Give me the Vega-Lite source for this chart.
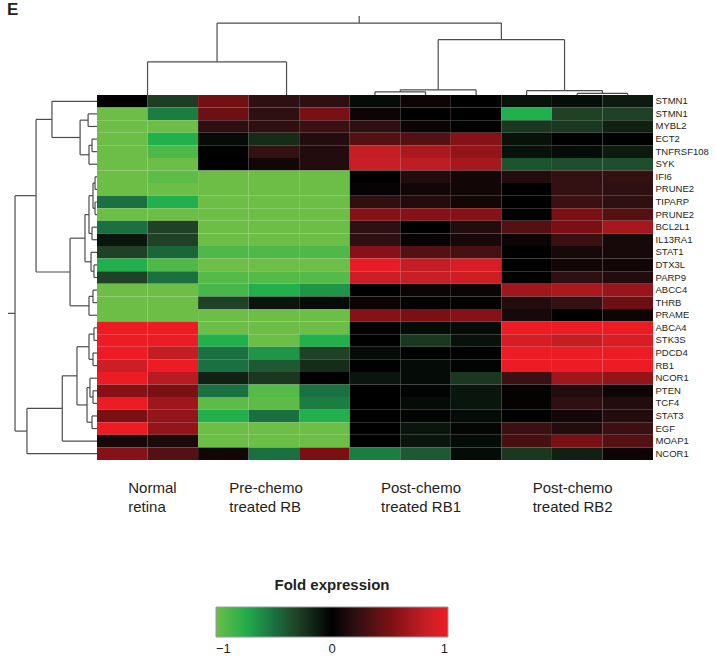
{
"$schema":"https://vega.github.io/schema/vega-lite/v6.json",
"width":556,"height":365,
"autosize":"none",
"padding":{"left":97,"top":95,"right":62,"bottom":208},
"background":"white",
"title":{"text":"E","anchor":"start","frame":"group","dx":-90,"offset":-4,"fontSize":17,"fontWeight":"bold","color":"#231f20","font":"Liberation Sans"},
"config":{"view":{"stroke":null},"font":"Liberation Sans"},
"datasets":{
"cells":[
{"g":"STMN1","s":"N1","v":0},{"g":"STMN1","s":"N2","v":-0.28},{"g":"STMN1","s":"P1","v":0.47},{"g":"STMN1","s":"P2","v":0.2},{"g":"STMN1","s":"P3","v":0.2},{"g":"STMN1","s":"A1","v":-0.05},{"g":"STMN1","s":"A2","v":0.05},{"g":"STMN1","s":"A3","v":0},{"g":"STMN1","s":"B1","v":-0.08},{"g":"STMN1","s":"B2","v":-0.06},{"g":"STMN1","s":"B3","v":-0.12},
{"g":"STMN1#2","s":"N1","v":-1},{"g":"STMN1#2","s":"N2","v":-0.55},{"g":"STMN1#2","s":"P1","v":0.45},{"g":"STMN1#2","s":"P2","v":0.2},{"g":"STMN1#2","s":"P3","v":0.5},{"g":"STMN1#2","s":"A1","v":0.05},{"g":"STMN1#2","s":"A2","v":0},{"g":"STMN1#2","s":"A3","v":0},{"g":"STMN1#2","s":"B1","v":-0.75},{"g":"STMN1#2","s":"B2","v":-0.3},{"g":"STMN1#2","s":"B3","v":-0.3},
{"g":"MYBL2","s":"N1","v":-1},{"g":"MYBL2","s":"N2","v":-1},{"g":"MYBL2","s":"P1","v":0.2},{"g":"MYBL2","s":"P2","v":0.2},{"g":"MYBL2","s":"P3","v":0.25},{"g":"MYBL2","s":"A1","v":0.2},{"g":"MYBL2","s":"A2","v":0.05},{"g":"MYBL2","s":"A3","v":0},{"g":"MYBL2","s":"B1","v":-0.25},{"g":"MYBL2","s":"B2","v":-0.25},{"g":"MYBL2","s":"B3","v":-0.15},
{"g":"ECT2","s":"N1","v":-1},{"g":"ECT2","s":"N2","v":-0.75},{"g":"ECT2","s":"P1","v":-0.05},{"g":"ECT2","s":"P2","v":-0.2},{"g":"ECT2","s":"P3","v":0.15},{"g":"ECT2","s":"A1","v":0.35},{"g":"ECT2","s":"A2","v":0.35},{"g":"ECT2","s":"A3","v":0.55},{"g":"ECT2","s":"B1","v":-0.08},{"g":"ECT2","s":"B2","v":0},{"g":"ECT2","s":"B3","v":0},
{"g":"TNFRSF108","s":"N1","v":-1},{"g":"TNFRSF108","s":"N2","v":-0.9},{"g":"TNFRSF108","s":"P1","v":0},{"g":"TNFRSF108","s":"P2","v":0.22},{"g":"TNFRSF108","s":"P3","v":0.15},{"g":"TNFRSF108","s":"A1","v":0.8},{"g":"TNFRSF108","s":"A2","v":0.7},{"g":"TNFRSF108","s":"A3","v":0.6},{"g":"TNFRSF108","s":"B1","v":-0.08},{"g":"TNFRSF108","s":"B2","v":-0.06},{"g":"TNFRSF108","s":"B3","v":-0.12},
{"g":"SYK","s":"N1","v":-1},{"g":"SYK","s":"N2","v":-1},{"g":"SYK","s":"P1","v":0},{"g":"SYK","s":"P2","v":0.08},{"g":"SYK","s":"P3","v":0.15},{"g":"SYK","s":"A1","v":0.82},{"g":"SYK","s":"A2","v":0.77},{"g":"SYK","s":"A3","v":0.67},{"g":"SYK","s":"B1","v":-0.38},{"g":"SYK","s":"B2","v":-0.35},{"g":"SYK","s":"B3","v":-0.35},
{"g":"IFI6","s":"N1","v":-1},{"g":"IFI6","s":"N2","v":-0.95},{"g":"IFI6","s":"P1","v":-1},{"g":"IFI6","s":"P2","v":-1},{"g":"IFI6","s":"P3","v":-1},{"g":"IFI6","s":"A1","v":0},{"g":"IFI6","s":"A2","v":0.15},{"g":"IFI6","s":"A3","v":0.08},{"g":"IFI6","s":"B1","v":0.15},{"g":"IFI6","s":"B2","v":0.22},{"g":"IFI6","s":"B3","v":0.22},
{"g":"PRUNE2","s":"N1","v":-1},{"g":"PRUNE2","s":"N2","v":-1},{"g":"PRUNE2","s":"P1","v":-1},{"g":"PRUNE2","s":"P2","v":-1},{"g":"PRUNE2","s":"P3","v":-1},{"g":"PRUNE2","s":"A1","v":0.03},{"g":"PRUNE2","s":"A2","v":0.08},{"g":"PRUNE2","s":"A3","v":0.08},{"g":"PRUNE2","s":"B1","v":0},{"g":"PRUNE2","s":"B2","v":0.22},{"g":"PRUNE2","s":"B3","v":0.2},
{"g":"TIPARP","s":"N1","v":-0.5},{"g":"TIPARP","s":"N2","v":-0.75},{"g":"TIPARP","s":"P1","v":-1},{"g":"TIPARP","s":"P2","v":-1},{"g":"TIPARP","s":"P3","v":-1},{"g":"TIPARP","s":"A1","v":0.2},{"g":"TIPARP","s":"A2","v":0.15},{"g":"TIPARP","s":"A3","v":0.08},{"g":"TIPARP","s":"B1","v":0},{"g":"TIPARP","s":"B2","v":0.25},{"g":"TIPARP","s":"B3","v":0.2},
{"g":"PRUNE2#2","s":"N1","v":-1},{"g":"PRUNE2#2","s":"N2","v":-1},{"g":"PRUNE2#2","s":"P1","v":-1},{"g":"PRUNE2#2","s":"P2","v":-1},{"g":"PRUNE2#2","s":"P3","v":-1},{"g":"PRUNE2#2","s":"A1","v":0.55},{"g":"PRUNE2#2","s":"A2","v":0.55},{"g":"PRUNE2#2","s":"A3","v":0.55},{"g":"PRUNE2#2","s":"B1","v":0},{"g":"PRUNE2#2","s":"B2","v":0.5},{"g":"PRUNE2#2","s":"B3","v":0.35},
{"g":"BCL2L1","s":"N1","v":-0.5},{"g":"BCL2L1","s":"N2","v":-0.3},{"g":"BCL2L1","s":"P1","v":-1},{"g":"BCL2L1","s":"P2","v":-1},{"g":"BCL2L1","s":"P3","v":-1},{"g":"BCL2L1","s":"A1","v":0.2},{"g":"BCL2L1","s":"A2","v":0},{"g":"BCL2L1","s":"A3","v":0.15},{"g":"BCL2L1","s":"B1","v":0.35},{"g":"BCL2L1","s":"B2","v":0.5},{"g":"BCL2L1","s":"B3","v":0.68},
{"g":"IL13RA1","s":"N1","v":-0.1},{"g":"IL13RA1","s":"N2","v":-0.3},{"g":"IL13RA1","s":"P1","v":-1},{"g":"IL13RA1","s":"P2","v":-1},{"g":"IL13RA1","s":"P3","v":-1},{"g":"IL13RA1","s":"A1","v":0.2},{"g":"IL13RA1","s":"A2","v":0.03},{"g":"IL13RA1","s":"A3","v":0.1},{"g":"IL13RA1","s":"B1","v":0.05},{"g":"IL13RA1","s":"B2","v":0.25},{"g":"IL13RA1","s":"B3","v":0.1},
{"g":"STAT1","s":"N1","v":-0.3},{"g":"STAT1","s":"N2","v":-0.45},{"g":"STAT1","s":"P1","v":-0.9},{"g":"STAT1","s":"P2","v":-0.9},{"g":"STAT1","s":"P3","v":-0.9},{"g":"STAT1","s":"A1","v":0.55},{"g":"STAT1","s":"A2","v":0.35},{"g":"STAT1","s":"A3","v":0.3},{"g":"STAT1","s":"B1","v":0},{"g":"STAT1","s":"B2","v":0.1},{"g":"STAT1","s":"B3","v":0.1},
{"g":"DTX3L","s":"N1","v":-0.75},{"g":"DTX3L","s":"N2","v":-0.9},{"g":"DTX3L","s":"P1","v":-1},{"g":"DTX3L","s":"P2","v":-1},{"g":"DTX3L","s":"P3","v":-1},{"g":"DTX3L","s":"A1","v":0.97},{"g":"DTX3L","s":"A2","v":0.8},{"g":"DTX3L","s":"A3","v":0.9},{"g":"DTX3L","s":"B1","v":0},{"g":"DTX3L","s":"B2","v":0.08},{"g":"DTX3L","s":"B3","v":0.08},
{"g":"PARP9","s":"N1","v":-0.3},{"g":"PARP9","s":"N2","v":-0.5},{"g":"PARP9","s":"P1","v":-0.92},{"g":"PARP9","s":"P2","v":-0.92},{"g":"PARP9","s":"P3","v":-0.92},{"g":"PARP9","s":"A1","v":0.85},{"g":"PARP9","s":"A2","v":0.82},{"g":"PARP9","s":"A3","v":0.85},{"g":"PARP9","s":"B1","v":0},{"g":"PARP9","s":"B2","v":0.2},{"g":"PARP9","s":"B3","v":0.15},
{"g":"ABCC4","s":"N1","v":-1},{"g":"ABCC4","s":"N2","v":-1},{"g":"ABCC4","s":"P1","v":-0.88},{"g":"ABCC4","s":"P2","v":-0.75},{"g":"ABCC4","s":"P3","v":-0.65},{"g":"ABCC4","s":"A1","v":0},{"g":"ABCC4","s":"A2","v":0.05},{"g":"ABCC4","s":"A3","v":0.05},{"g":"ABCC4","s":"B1","v":0.65},{"g":"ABCC4","s":"B2","v":0.7},{"g":"ABCC4","s":"B3","v":0.62},
{"g":"THRB","s":"N1","v":-1},{"g":"THRB","s":"N2","v":-1},{"g":"THRB","s":"P1","v":-0.3},{"g":"THRB","s":"P2","v":-0.1},{"g":"THRB","s":"P3","v":-0.05},{"g":"THRB","s":"A1","v":0.05},{"g":"THRB","s":"A2","v":0.02},{"g":"THRB","s":"A3","v":0.02},{"g":"THRB","s":"B1","v":0.15},{"g":"THRB","s":"B2","v":0.22},{"g":"THRB","s":"B3","v":0.45},
{"g":"PRAME","s":"N1","v":-1},{"g":"PRAME","s":"N2","v":-1},{"g":"PRAME","s":"P1","v":-1},{"g":"PRAME","s":"P2","v":-1},{"g":"PRAME","s":"P3","v":-1},{"g":"PRAME","s":"A1","v":0.55},{"g":"PRAME","s":"A2","v":0.5},{"g":"PRAME","s":"A3","v":0.55},{"g":"PRAME","s":"B1","v":0.1},{"g":"PRAME","s":"B2","v":0},{"g":"PRAME","s":"B3","v":0.05},
{"g":"ABCA4","s":"N1","v":1},{"g":"ABCA4","s":"N2","v":1},{"g":"ABCA4","s":"P1","v":-1},{"g":"ABCA4","s":"P2","v":-1},{"g":"ABCA4","s":"P3","v":-1},{"g":"ABCA4","s":"A1","v":0},{"g":"ABCA4","s":"A2","v":-0.05},{"g":"ABCA4","s":"A3","v":-0.05},{"g":"ABCA4","s":"B1","v":1},{"g":"ABCA4","s":"B2","v":1},{"g":"ABCA4","s":"B3","v":1},
{"g":"STK3S","s":"N1","v":1},{"g":"STK3S","s":"N2","v":1},{"g":"STK3S","s":"P1","v":-0.75},{"g":"STK3S","s":"P2","v":-1},{"g":"STK3S","s":"P3","v":-0.75},{"g":"STK3S","s":"A1","v":0},{"g":"STK3S","s":"A2","v":-0.25},{"g":"STK3S","s":"A3","v":-0.08},{"g":"STK3S","s":"B1","v":0.88},{"g":"STK3S","s":"B2","v":0.8},{"g":"STK3S","s":"B3","v":0.9},
{"g":"PDCD4","s":"N1","v":1},{"g":"PDCD4","s":"N2","v":0.8},{"g":"PDCD4","s":"P1","v":-0.5},{"g":"PDCD4","s":"P2","v":-0.65},{"g":"PDCD4","s":"P3","v":-0.3},{"g":"PDCD4","s":"A1","v":-0.05},{"g":"PDCD4","s":"A2","v":0},{"g":"PDCD4","s":"A3","v":0},{"g":"PDCD4","s":"B1","v":1},{"g":"PDCD4","s":"B2","v":1},{"g":"PDCD4","s":"B3","v":1},
{"g":"RB1","s":"N1","v":0.85},{"g":"RB1","s":"N2","v":1},{"g":"RB1","s":"P1","v":-0.5},{"g":"RB1","s":"P2","v":-0.4},{"g":"RB1","s":"P3","v":-0.2},{"g":"RB1","s":"A1","v":0},{"g":"RB1","s":"A2","v":-0.05},{"g":"RB1","s":"A3","v":-0.02},{"g":"RB1","s":"B1","v":1},{"g":"RB1","s":"B2","v":1},{"g":"RB1","s":"B3","v":1},
{"g":"NCOR1","s":"N1","v":1},{"g":"NCOR1","s":"N2","v":0.75},{"g":"NCOR1","s":"P1","v":-0.15},{"g":"NCOR1","s":"P2","v":-0.25},{"g":"NCOR1","s":"P3","v":0},{"g":"NCOR1","s":"A1","v":-0.1},{"g":"NCOR1","s":"A2","v":-0.05},{"g":"NCOR1","s":"A3","v":-0.25},{"g":"NCOR1","s":"B1","v":0.25},{"g":"NCOR1","s":"B2","v":0.65},{"g":"NCOR1","s":"B3","v":0.6},
{"g":"PTEN","s":"N1","v":0.55},{"g":"PTEN","s":"N2","v":0.5},{"g":"PTEN","s":"P1","v":-0.5},{"g":"PTEN","s":"P2","v":-0.92},{"g":"PTEN","s":"P3","v":-0.5},{"g":"PTEN","s":"A1","v":0},{"g":"PTEN","s":"A2","v":-0.02},{"g":"PTEN","s":"A3","v":-0.1},{"g":"PTEN","s":"B1","v":0.02},{"g":"PTEN","s":"B2","v":0.15},{"g":"PTEN","s":"B3","v":0.05},
{"g":"TCF4","s":"N1","v":1},{"g":"TCF4","s":"N2","v":0.65},{"g":"TCF4","s":"P1","v":-0.95},{"g":"TCF4","s":"P2","v":-0.95},{"g":"TCF4","s":"P3","v":-0.55},{"g":"TCF4","s":"A1","v":0},{"g":"TCF4","s":"A2","v":-0.05},{"g":"TCF4","s":"A3","v":-0.1},{"g":"TCF4","s":"B1","v":0.02},{"g":"TCF4","s":"B2","v":0.2},{"g":"TCF4","s":"B3","v":0.15},
{"g":"STAT3","s":"N1","v":0.5},{"g":"STAT3","s":"N2","v":0.6},{"g":"STAT3","s":"P1","v":-0.75},{"g":"STAT3","s":"P2","v":-0.5},{"g":"STAT3","s":"P3","v":-0.75},{"g":"STAT3","s":"A1","v":0},{"g":"STAT3","s":"A2","v":-0.02},{"g":"STAT3","s":"A3","v":-0.05},{"g":"STAT3","s":"B1","v":0},{"g":"STAT3","s":"B2","v":0.08},{"g":"STAT3","s":"B3","v":0.15},
{"g":"EGF","s":"N1","v":1},{"g":"EGF","s":"N2","v":0.6},{"g":"EGF","s":"P1","v":-1},{"g":"EGF","s":"P2","v":-1},{"g":"EGF","s":"P3","v":-1},{"g":"EGF","s":"A1","v":0},{"g":"EGF","s":"A2","v":-0.1},{"g":"EGF","s":"A3","v":-0.03},{"g":"EGF","s":"B1","v":0.25},{"g":"EGF","s":"B2","v":0.15},{"g":"EGF","s":"B3","v":0.25},
{"g":"MOAP1","s":"N1","v":0.1},{"g":"MOAP1","s":"N2","v":0.12},{"g":"MOAP1","s":"P1","v":-1},{"g":"MOAP1","s":"P2","v":-1},{"g":"MOAP1","s":"P3","v":-1},{"g":"MOAP1","s":"A1","v":0},{"g":"MOAP1","s":"A2","v":-0.1},{"g":"MOAP1","s":"A3","v":-0.05},{"g":"MOAP1","s":"B1","v":0.3},{"g":"MOAP1","s":"B2","v":0.5},{"g":"MOAP1","s":"B3","v":0.35},
{"g":"NCOR1#2","s":"N1","v":0.55},{"g":"NCOR1#2","s":"N2","v":0.35},{"g":"NCOR1#2","s":"P1","v":0.08},{"g":"NCOR1#2","s":"P2","v":-0.5},{"g":"NCOR1#2","s":"P3","v":0.5},{"g":"NCOR1#2","s":"A1","v":-0.55},{"g":"NCOR1#2","s":"A2","v":-0.4},{"g":"NCOR1#2","s":"A3","v":-0.05},{"g":"NCOR1#2","s":"B1","v":-0.25},{"g":"NCOR1#2","s":"B2","v":-0.15},{"g":"NCOR1#2","s":"B3","v":0.05}
],
"top":[
{"p":1,"p2":3.75,"h":0.42,"h2":0.42},{"p":1,"p2":1,"h":0.42,"h2":0},{"p":3.75,"p2":3.75,"h":0.42,"h2":0},
{"p":5.5,"p2":6.5,"h":0.04,"h2":0.04},{"p":5.5,"p2":5.5,"h":0.04,"h2":0},{"p":6.5,"p2":6.5,"h":0.04,"h2":0},
{"p":6,"p2":7.5,"h":0.065,"h2":0.065},{"p":6,"p2":6,"h":0.065,"h2":0.04},{"p":7.5,"p2":7.5,"h":0.065,"h2":0},
{"p":9.5,"p2":10.5,"h":0.02,"h2":0.02},{"p":9.5,"p2":9.5,"h":0.02,"h2":0},{"p":10.5,"p2":10.5,"h":0.02,"h2":0},
{"p":8.5,"p2":10,"h":0.055,"h2":0.055},{"p":8.5,"p2":8.5,"h":0.055,"h2":0},{"p":10,"p2":10,"h":0.055,"h2":0.02},
{"p":6.75,"p2":9.25,"h":0.7,"h2":0.7},{"p":6.75,"p2":6.75,"h":0.7,"h2":0.065},{"p":9.25,"p2":9.25,"h":0.7,"h2":0.055},
{"p":2.375,"p2":8,"h":0.91,"h2":0.91},{"p":2.375,"p2":2.375,"h":0.91,"h2":0.42},{"p":8,"p2":8,"h":0.91,"h2":0.7},
{"p":5.1875,"p2":5.1875,"h":0.91,"h2":1}
],
"left":[
{"p":1.5,"p2":2.5,"h":0.1,"h2":0.1},{"p":1.5,"p2":1.5,"h":0.1,"h2":0},{"p":2.5,"p2":2.5,"h":0.1,"h2":0},
{"p":3.5,"p2":4.5,"h":0.056,"h2":0.056},{"p":3.5,"p2":3.5,"h":0.056,"h2":0},{"p":4.5,"p2":4.5,"h":0.056,"h2":0},
{"p":4,"p2":5.5,"h":0.09,"h2":0.09},{"p":4,"p2":4,"h":0.09,"h2":0.056},{"p":5.5,"p2":5.5,"h":0.09,"h2":0},
{"p":2,"p2":4.75,"h":0.19,"h2":0.19},{"p":2,"p2":2,"h":0.19,"h2":0.1},{"p":4.75,"p2":4.75,"h":0.19,"h2":0.09},
{"p":0.5,"p2":3.375,"h":0.506,"h2":0.506},{"p":0.5,"p2":0.5,"h":0.506,"h2":0},{"p":3.375,"p2":3.375,"h":0.506,"h2":0.19},
{"p":6.5,"p2":7.5,"h":0.022,"h2":0.022},{"p":6.5,"p2":6.5,"h":0.022,"h2":0},{"p":7.5,"p2":7.5,"h":0.022,"h2":0},
{"p":8.5,"p2":9.5,"h":0.022,"h2":0.022},{"p":8.5,"p2":8.5,"h":0.022,"h2":0},{"p":9.5,"p2":9.5,"h":0.022,"h2":0},
{"p":7,"p2":9,"h":0.045,"h2":0.045},{"p":7,"p2":7,"h":0.045,"h2":0.022},{"p":9,"p2":9,"h":0.045,"h2":0.022},
{"p":10.5,"p2":11.5,"h":0.056,"h2":0.056},{"p":10.5,"p2":10.5,"h":0.056,"h2":0},{"p":11.5,"p2":11.5,"h":0.056,"h2":0},
{"p":8,"p2":11,"h":0.09,"h2":0.09},{"p":8,"p2":8,"h":0.09,"h2":0.045},{"p":11,"p2":11,"h":0.09,"h2":0.056},
{"p":13.5,"p2":14.5,"h":0.034,"h2":0.034},{"p":13.5,"p2":13.5,"h":0.034,"h2":0},{"p":14.5,"p2":14.5,"h":0.034,"h2":0},
{"p":12.5,"p2":14,"h":0.067,"h2":0.067},{"p":12.5,"p2":12.5,"h":0.067,"h2":0},{"p":14,"p2":14,"h":0.067,"h2":0.034},
{"p":9.5,"p2":13.25,"h":0.135,"h2":0.135},{"p":9.5,"p2":9.5,"h":0.135,"h2":0.09},{"p":13.25,"p2":13.25,"h":0.135,"h2":0.067},
{"p":15.5,"p2":16.5,"h":0.045,"h2":0.045},{"p":15.5,"p2":15.5,"h":0.045,"h2":0},{"p":16.5,"p2":16.5,"h":0.045,"h2":0},
{"p":16,"p2":17.5,"h":0.09,"h2":0.09},{"p":16,"p2":16,"h":0.09,"h2":0.045},{"p":17.5,"p2":17.5,"h":0.09,"h2":0},
{"p":11.375,"p2":16.75,"h":0.303,"h2":0.303},{"p":11.375,"p2":11.375,"h":0.303,"h2":0.135},{"p":16.75,"p2":16.75,"h":0.303,"h2":0.09},
{"p":1.9375,"p2":14.0625,"h":0.685,"h2":0.685},{"p":1.9375,"p2":1.9375,"h":0.685,"h2":0.506},{"p":14.0625,"p2":14.0625,"h":0.685,"h2":0.303},
{"p":18.5,"p2":19.5,"h":0.034,"h2":0.034},{"p":18.5,"p2":18.5,"h":0.034,"h2":0},{"p":19.5,"p2":19.5,"h":0.034,"h2":0},
{"p":20.5,"p2":21.5,"h":0.045,"h2":0.045},{"p":20.5,"p2":20.5,"h":0.045,"h2":0},{"p":21.5,"p2":21.5,"h":0.045,"h2":0},
{"p":19,"p2":21,"h":0.09,"h2":0.09},{"p":19,"p2":19,"h":0.09,"h2":0.034},{"p":21,"p2":21,"h":0.09,"h2":0.045},
{"p":23.5,"p2":24.5,"h":0.045,"h2":0.045},{"p":23.5,"p2":23.5,"h":0.045,"h2":0},{"p":24.5,"p2":24.5,"h":0.045,"h2":0},
{"p":22.5,"p2":24,"h":0.079,"h2":0.079},{"p":22.5,"p2":22.5,"h":0.079,"h2":0},{"p":24,"p2":24,"h":0.079,"h2":0.045},
{"p":25.5,"p2":26.5,"h":0.056,"h2":0.056},{"p":25.5,"p2":25.5,"h":0.056,"h2":0},{"p":26.5,"p2":26.5,"h":0.056,"h2":0},
{"p":23.25,"p2":26,"h":0.112,"h2":0.112},{"p":23.25,"p2":23.25,"h":0.112,"h2":0.079},{"p":26,"p2":26,"h":0.112,"h2":0.056},
{"p":20,"p2":24.625,"h":0.225,"h2":0.225},{"p":20,"p2":20,"h":0.225,"h2":0.09},{"p":24.625,"p2":24.625,"h":0.225,"h2":0.112},
{"p":22.3125,"p2":27.5,"h":0.39,"h2":0.39},{"p":22.3125,"p2":22.3125,"h":0.39,"h2":0.225},{"p":27.5,"p2":27.5,"h":0.39,"h2":0},
{"p":24.906,"p2":28.5,"h":0.787,"h2":0.787},{"p":24.906,"p2":24.906,"h":0.787,"h2":0.39},{"p":28.5,"p2":28.5,"h":0.787,"h2":0},
{"p":8,"p2":26.703,"h":0.921,"h2":0.921},{"p":8,"p2":8,"h":0.921,"h2":0.685},{"p":26.703,"p2":26.703,"h":0.921,"h2":0.787},
{"p":17.35,"p2":17.35,"h":0.921,"h2":1}
]
},
"layer":[
{"data":{"name":"cells"},
 "mark":{"type":"rect"},
 "encoding":{
  "x":{"field":"s","type":"ordinal","sort":["N1","N2","P1","P2","P3","A1","A2","A3","B1","B2","B3"],"scale":{"paddingInner":0,"paddingOuter":0},
       "axis":{"orient":"bottom","title":null,"domain":false,"ticks":false,"bandPosition":0,"labelAngle":0,"labelAlign":"left","labelBaseline":"top","labelPadding":20,"labelOffset":6,"labelFontSize":15,"labelLineHeight":19,"labelColor":"#231f20","labelOverlap":false,"labelBound":false,"labelFlush":false,
       "labelExpr":"datum.value=='N1'?['Normal','retina']:datum.value=='P1'?['Pre-chemo','treated RB']:datum.value=='A1'?['Post-chemo','treated RB1']:datum.value=='B1'?['Post-chemo','treated RB2']:''"}},
  "y":{"field":"g","type":"ordinal","sort":["STMN1","STMN1#2","MYBL2","ECT2","TNFRSF108","SYK","IFI6","PRUNE2","TIPARP","PRUNE2#2","BCL2L1","IL13RA1","STAT1","DTX3L","PARP9","ABCC4","THRB","PRAME","ABCA4","STK3S","PDCD4","RB1","NCOR1","PTEN","TCF4","STAT3","EGF","MOAP1","NCOR1#2"],"scale":{"paddingInner":0,"paddingOuter":0},
       "axis":{"orient":"right","title":null,"domain":false,"ticks":false,"labelPadding":2,"labelFontSize":9.5,"labelColor":"#231f20","labelOverlap":false,"labelExpr":"split(datum.value,'#')[0]"}},
  "color":{"field":"v","type":"quantitative",
       "scale":{"domain":[-1,-0.75,-0.5,-0.3,0,0.2,0.5,0.8,1],"range":["#6cbe46","#22b04c","#1a7040","#1f4226","#000000","#2e1012","#7a1014","#c41e25","#ed1c24"],"interpolate":"rgb"},
       "legend":{"orient":"none","legendX":119,"legendY":483,"direction":"horizontal","title":"Fold expression","titleFontSize":15,"titleFontWeight":"bold","titleColor":"#231f20","titleAnchor":"middle","titleOrient":"top","titlePadding":14,"gradientLength":232,"gradientThickness":30,"gradientStrokeColor":"#9a9a9a","gradientStrokeWidth":1,"values":[-1,0,1],"format":"d","labelFontSize":13,"labelColor":"#231f20","labelOffset":6}}
 }},
{"data":{"name":"top"},
 "mark":{"type":"rule","color":"#4d4d4d","strokeWidth":1.2},
 "encoding":{
  "x":{"field":"p","type":"quantitative","scale":{"domain":[0,11],"nice":false,"zero":false},"axis":null},
  "x2":{"field":"p2"},
  "y":{"field":"h","type":"quantitative","scale":{"domain":[0,1],"range":[0,-79],"nice":false,"zero":false},"axis":null},
  "y2":{"field":"h2"}
 }},
{"data":{"name":"left"},
 "mark":{"type":"rule","color":"#4d4d4d","strokeWidth":1.2},
 "encoding":{
  "y":{"field":"p","type":"quantitative","scale":{"domain":[0,29],"reverse":true,"nice":false,"zero":false},"axis":null},
  "y2":{"field":"p2"},
  "x":{"field":"h","type":"quantitative","scale":{"domain":[0,1],"range":[0,-89],"nice":false,"zero":false},"axis":null},
  "x2":{"field":"h2"}
 }}
],
"resolve":{"scale":{"x":"independent","y":"independent","color":"independent"}}
}
